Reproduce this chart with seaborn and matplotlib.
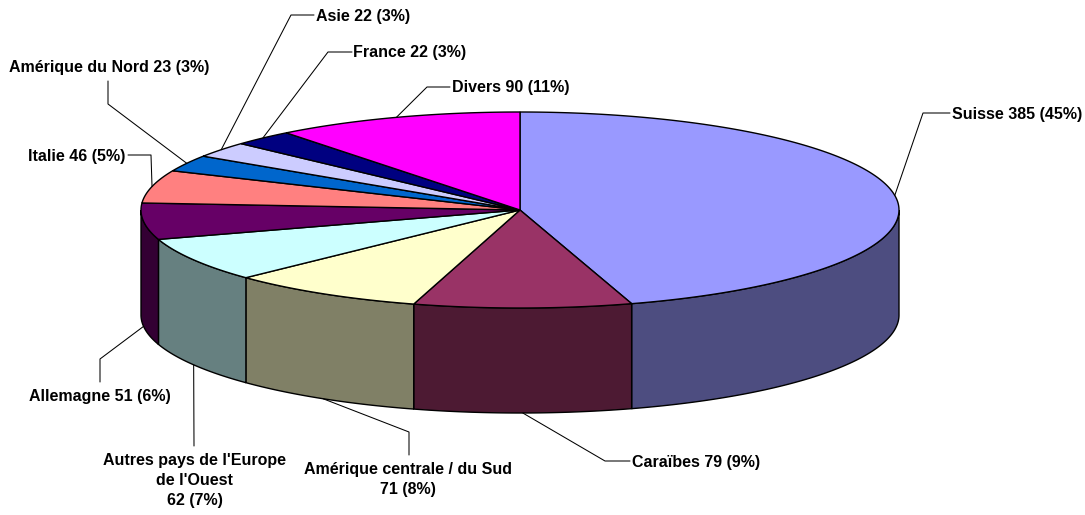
import numpy as np
import matplotlib
matplotlib.use('Agg')
import matplotlib.pyplot as plt
import seaborn as sns

names = ['Suisse', 'Caraïbes', 'Amérique centrale / du Sud', "Autres pays de l'Europe de l'Ouest",
         'Allemagne', 'Italie', 'Amérique du Nord', 'Asie', 'France', 'Divers']
values = [385, 79, 71, 62, 51, 46, 23, 22, 22, 90]
percents = [45, 9, 8, 7, 6, 5, 3, 3, 3, 11]
top_colors = ['#9999FF', '#993366', '#FFFFCC', '#CCFFFF', '#660066',
              '#FF8080', '#0066CC', '#CCCCFF', '#000080', '#FF00FF']

# label text, its position and the elbow of the leader line (pixels of the picture)
label_text = ['{} {} ({}%)'.format(n, v, p) for n, v, p in zip(names, values, percents)]
label_text[2] = 'Amérique centrale / du Sud\n71 (8%)'
label_text[3] = "Autres pays de l'Europe\nde l'Ouest\n62 (7%)"
label_pos = [(952, 114, 'left'), (632, 463, 'left'), (408, 479.5, 'center'), (194.5, 480.5, 'center'),
             (171, 396.5, 'right'), (125, 156, 'right'), (209, 67.5, 'right'), (316, 16, 'left'),
             (353, 52.5, 'left'), (452, 87.5, 'left')]
elbows = [[(923, 113), (950, 113)], [(605, 461), (630, 461)], [(409, 432), (409, 455)],
          [(194, 446)], [(100, 359), (100, 382)], [(151, 155), (128, 155)],
          [(108, 104), (108, 81)], [(291, 15), (314, 15)], [(328, 52), (352, 52)], [(427, 87), (450, 87)]]

cx, cy, rx, ry, depth = 520, 210, 379, 98, 105

sns.set_theme(style='white')
plt.rcParams['font.family'] = ['Liberation Sans', 'DejaVu Sans']
palette = sns.color_palette(top_colors)

fig = plt.figure(figsize=(10.85, 5.15), dpi=100)
ax = fig.add_axes([0, 0, 1, 1])
ax.set_xlim(0, 1085)
ax.set_ylim(515, 0)
ax.axis('off')


def arc(a0, a1, dy=0):
    t = np.radians(np.linspace(a0, a1, 200))
    return cx + rx * np.sin(t), cy - ry * np.cos(t) + dy


edges = np.concatenate([[0], np.cumsum(values)]) / sum(values) * 360
for i, c in enumerate(palette):
    a0, a1 = edges[i], edges[i + 1]
    # side wall, only the front half shows
    w0, w1 = max(a0, 90), min(a1, 270)
    if w0 < w1:
        x1, y1 = arc(w0, w1)
        x2, y2 = arc(w1, w0, depth)
        dark = tuple(v * 0.5 for v in c)
        ax.fill(np.r_[x1, x2], np.r_[y1, y2], fc=dark, ec='black', lw=1.0)

for i, c in enumerate(palette):
    x1, y1 = arc(edges[i], edges[i + 1])
    ax.fill(np.r_[cx, x1], np.r_[cy, y1], fc=c, ec='black', lw=1.0)

for i, name in enumerate(names):
    mid = (edges[i] + edges[i + 1]) / 2
    x, y = arc(mid, mid)
    x, y = x[0], y[0]
    if 90 < mid < 270:
        y += depth
    px = [x] + [p[0] for p in elbows[i]]
    py = [y] + [p[1] for p in elbows[i]]
    ax.plot(px, py, color='black', lw=0.75)
    lx, ly, ha = label_pos[i]
    ax.text(lx, ly, label_text[i], ha=ha, va='center', fontsize=11.5, fontweight='bold',
            color='black', linespacing=1.42)

fig.savefig('out.png', dpi=100, facecolor='white')
